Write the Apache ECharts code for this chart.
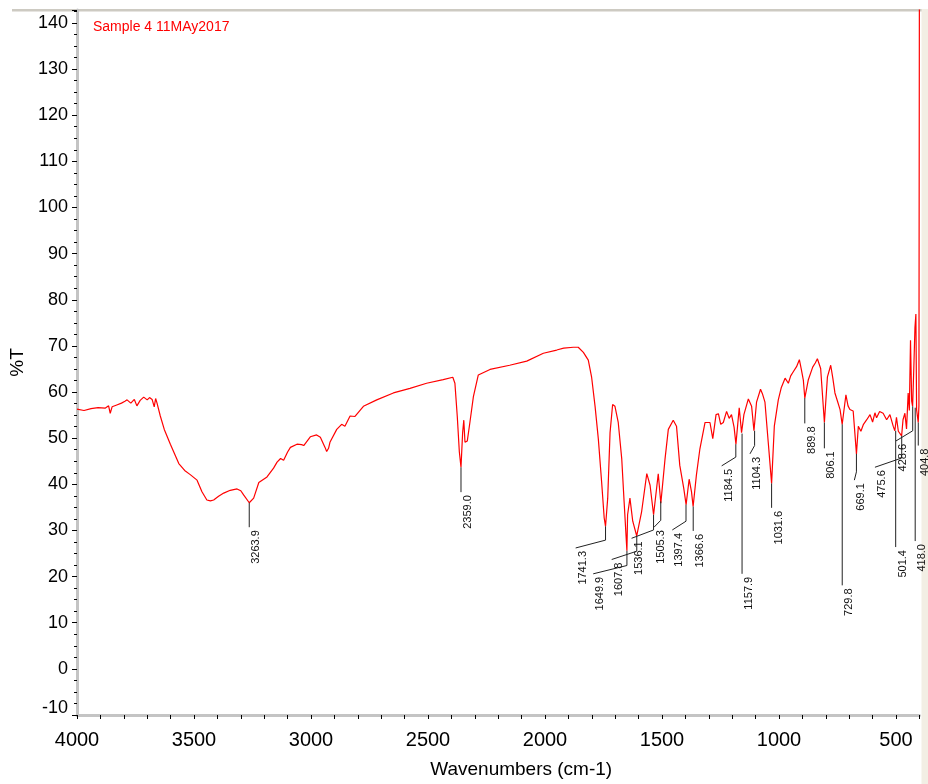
<!DOCTYPE html>
<html>
<head>
<meta charset="utf-8">
<script src="https://cdn.jsdelivr.net/npm/echarts@6/dist/echarts.min.js"></script>
<style>
html,body{margin:0;padding:0;background:#fff;}
#chart{width:928px;height:784px;}
</style>
</head>
<body>
<div id="chart"></div>
<script>
// ---- Spectrum data (wavenumber cm-1, %T) ----
const wavenumbers = [
4000,3970,3940,3910,3880,3865,3858,3850,3830,3810,3795,3786,3770,3755,3744,3730,3715,3700,3690,3679,3670,3664,3658,
3644,3627,3601,3565,3540,3516,3487,3466,3445,3430,3416,3395,3373,3345,3316,3300,3288,3263.9,3245,3223,3188,3160,3145,
3130,3117,3100,3088,3060,3040,3031,3003,2976,2960,2954,2940,2933,2925,2919,2890,2869,2862,2855,2833,2812,2776,2719,
2648,2577,2506,2435,2394,2385,2375,2366,2359,2352,2347,2342,2332,2321,2306,2285,2235,2151,2078,2007,1950,1920,1879,
1858,1836,1815,1801,1786,1772,1758,1747,1741.3,1732,1722,1711,1701,1687,1672,1662,1650,1647,1637,1625,1608,1587,1565,
1551,1536,1516,1505,1487,1473,1452,1438,1424,1407,1397,1384,1374,1367,1353,1338,1316,1295,1283,1269,1259,1249,1238,
1224,1213,1203,1192,1184,1170,1160,1150,1131,1117,1107,1096,1079,1070,1060,1046,1031.6,1020,1003,990,974,960,950,
939,925,913,905,896,889.8,875,856,845,836,822,806,793,779,770,761,750,739,730,714,705,697,683,669,661,650,639,625,611,
600,590,583,570,555,540,526,512,505,498,490,476,470,462,455,448,443,438,433,429,424,419,415,412,405,402,400
];
const transmittance = [
56.3,56.0,56.4,56.6,56.5,57.0,55.4,56.8,57.2,57.6,58.0,58.3,57.6,58.4,57.0,58.2,58.9,58.3,58.8,58.4,56.8,58.6,57.6,
54.8,51.9,48.7,44.5,43.0,42.1,40.9,38.4,36.6,36.4,36.6,37.4,38.1,38.7,39.0,38.6,37.7,36.0,37.0,40.4,41.6,43.5,44.8,
45.6,45.2,47.0,48.0,48.7,48.6,48.4,50.3,50.7,50.2,49.8,48.0,47.1,47.8,49.1,51.9,53.0,53.4,52.6,54.8,54.7,56.9,58.3,
59.8,60.8,61.9,62.7,63.2,61.9,54.8,47.0,43.7,51.2,53.9,49.1,49.4,53.4,59.0,63.7,64.9,65.8,66.7,68.4,69.1,69.5,69.7,
69.7,68.6,66.9,63.3,56.9,49.8,40.5,32.7,30.9,37.0,51.2,57.3,56.9,53.4,45.5,36.3,25.6,33.4,37.0,32.0,28.8,34.1,42.3,
39.8,33.4,42.3,35.9,45.5,51.9,53.9,52.6,44.1,39.1,35.6,41.1,38.4,35.2,42.0,47.7,53.4,53.4,49.9,55.1,55.3,53.0,53.4,
55.8,54.3,55.1,52.4,48.7,56.6,51.2,55.1,58.5,56.9,51.6,57.8,60.6,59.5,57.8,49.1,40.2,52.6,58.3,61.0,63.0,61.9,63.5,
64.4,65.5,67.0,65.0,62.6,58.7,62.6,65.4,66.3,67.2,65.1,53.4,63.3,65.8,63.0,59.8,58.0,56.2,53.0,59.4,57.0,56.2,55.9,46.6,52.6,51.5,53.0,54.0,55.1,
53.5,55.5,54.4,55.8,55.4,54.0,55.1,52.6,51.6,54.5,51.5,50.5,54.0,55.4,52.0,59.8,56.0,71.2,58.0,56.9,65.0,74.0,76.9,56.2,53.4,57.0,150
];

// ---- Peak annotations ----
const peakLabels = ["3263.9","2359.0","1741.3","1649.9","1607.8","1536.1","1505.3","1397.4","1366.6","1184.5","1157.9",
  "1104.3","1031.6","889.8","806.1","729.8","669.1","501.4","475.6","428.6","418.0","404.8"];
const peakWn = [3263.9,2359.0,1741.3,1649.9,1607.8,1536.1,1505.3,1397.4,1366.6,1184.5,1157.9,1104.3,1031.6,889.8,806.1,729.8,669.1,501.4,475.6,428.6,418.0,404.8];
const peakT  = [36.0,43.7,30.9,25.6,28.8,33.4,36.3,35.6,35.2,48.7,51.0,51.6,40.2,58.7,53.4,53.0,46.6,51.6,50.5,56.9,56.6,53.4];
// leader line: vertical to bendT, then to (endWn, endT)
const bendT  = [30.7,38.3,27.9,22.4,25.5,30.1,32.2,32.0,29.9,45.9,20.6,48.4,34.9,53.2,47.8,18.1,42.7,26.4,45.7,51.6,27.7,48.4];
const endWn  = [3263.9,2359.0,1869,1794,1715,1630,1534,1456,1366.6,1245,1157.9,1124,1031.6,889.8,806.1,729.8,678,501.4,590,500,418.0,404.8];
const endT   = [30.7,38.3,26.2,20.6,23.7,28.3,30.7,30.1,29.9,44.0,20.6,46.6,34.9,53.2,47.8,18.1,40.9,26.4,43.7,49.4,27.7,48.4];

const xTicks = [4000,3500,3000,2500,2000,1500,1000,500];
const yTicks = [-10,0,10,20,30,40,50,60,70,80,90,100,110,120,130,140];

const titleText = "Sample 4 11MAy2017";
const xName = "Wavenumbers (cm-1)";
const yName = "%T";

const FONT = "'Liberation Sans', Arial, Helvetica, sans-serif";
const Y_MIN = -10, Y_MAX = 142.8, X_MIN = 400, X_MAX = 4000;

const chart = echarts.init(document.getElementById('chart'), null, {renderer: 'canvas'});

const spectrum = wavenumbers.map((w, i) => [w, transmittance[i]]);
const peakData = peakWn.map((w, i) => [w, peakT[i], bendT[i], endWn[i], endT[i], i]);

const option = {
  animation: false,
  backgroundColor: '#ffffff',
  title: {
    text: titleText,
    left: 93, top: 20, padding: 0,
    textStyle: {color: '#ff0000', fontSize: 14, fontWeight: 'normal', fontFamily: FONT}
  },
  graphic: [
    {type: 'rect', shape: {x: 12, y: 9, width: 910, height: 2.5}, style: {fill: '#cdcac2'}, z: -10},
    {type: 'rect', shape: {x: 921.5, y: 9, width: 7, height: 775}, style: {fill: '#f2eee4'}, z: -10}
  ],
  grid: {left: 77, right: 8.6, top: 10, bottom: 60.5, containLabel: false},
  xAxis: [{
    type: 'value', inverse: true, min: X_MIN, max: X_MAX, interval: 100,
    name: xName, nameLocation: 'middle', nameGap: 45,
    nameTextStyle: {fontSize: 19, color: '#000', fontFamily: FONT, padding: [0, 0, 0, 46]},
    axisLine: {show: true, onZero: false, lineStyle: {color: '#c4c4c4', width: 3}},
    axisTick: {show: true, inside: false, length: 4, lineStyle: {color: '#000', width: 1}},
    axisLabel: {
      show: true, margin: 15, fontSize: 20, color: '#000', fontFamily: FONT,
      formatter: v => (xTicks.indexOf(v) >= 0 ? String(v) : '')
    },
    splitLine: {show: false}
  }],
  yAxis: [{
    type: 'value', min: Y_MIN, max: Y_MAX, interval: 10,
    name: yName, nameLocation: 'middle', nameGap: 49, nameRotate: 90,
    nameTextStyle: {fontSize: 19, color: '#000', fontFamily: FONT},
    axisLine: {show: true, onZero: false, lineStyle: {color: '#c4c4c4', width: 3}},
    axisTick: {show: true, length: 5, lineStyle: {color: '#000', width: 1}},
    axisLabel: {
      show: true, margin: 9, fontSize: 18, color: '#000', fontFamily: FONT,
      formatter: v => {
        const r = Math.round(v * 100) / 100;
        if (yTicks.indexOf(r) < 0) return '';
        return r === Y_MIN ? '{lo|' + r + '}' : String(r);
      },
      rich: {lo: {fontSize: 18, color: '#000', fontFamily: FONT, padding: [0, 0, 13, 0]}}
    },
    splitLine: {show: false}
  }, {
    type: 'value', min: Y_MIN, max: Y_MAX, interval: 2.5, position: 'left',
    axisLine: {show: false},
    axisTick: {show: true, length: 3, lineStyle: {color: '#000', width: 1}},
    axisLabel: {show: false},
    splitLine: {show: false}
  }],
  series: [{
    type: 'line',
    data: spectrum,
    xAxisIndex: 0, yAxisIndex: 0,
    showSymbol: false, symbol: 'none',
    clip: true,
    lineStyle: {color: '#ff0000', width: 1.2},
    z: 3
  }, {
    type: 'custom',
    data: peakData,
    xAxisIndex: 0, yAxisIndex: 0,
    encode: {x: 0, y: 1},
    clip: false,
    z: 4,
    renderItem: function (params, api) {
      const p0 = api.coord([api.value(0), api.value(1)]);
      const p1 = api.coord([api.value(0), api.value(2)]);
      const p2 = api.coord([api.value(3), api.value(4)]);
      const idx = api.value(5);
      return {
        type: 'group',
        children: [{
          type: 'polyline',
          shape: {points: [p0, p1, p2]},
          style: {stroke: '#222', lineWidth: 1, fill: null}
        }, {
          type: 'text',
          x: p2[0] + 1.5, y: p2[1] + 3,
          rotation: Math.PI / 2,
          style: {
            text: peakLabels[idx], fill: '#111',
            font: '11px ' + FONT,
            align: 'right', verticalAlign: 'top',
            textAlign: 'right', textVerticalAlign: 'top'
          }
        }]
      };
    }
  }]
};
chart.setOption(option);
</script>
</body>
</html>
